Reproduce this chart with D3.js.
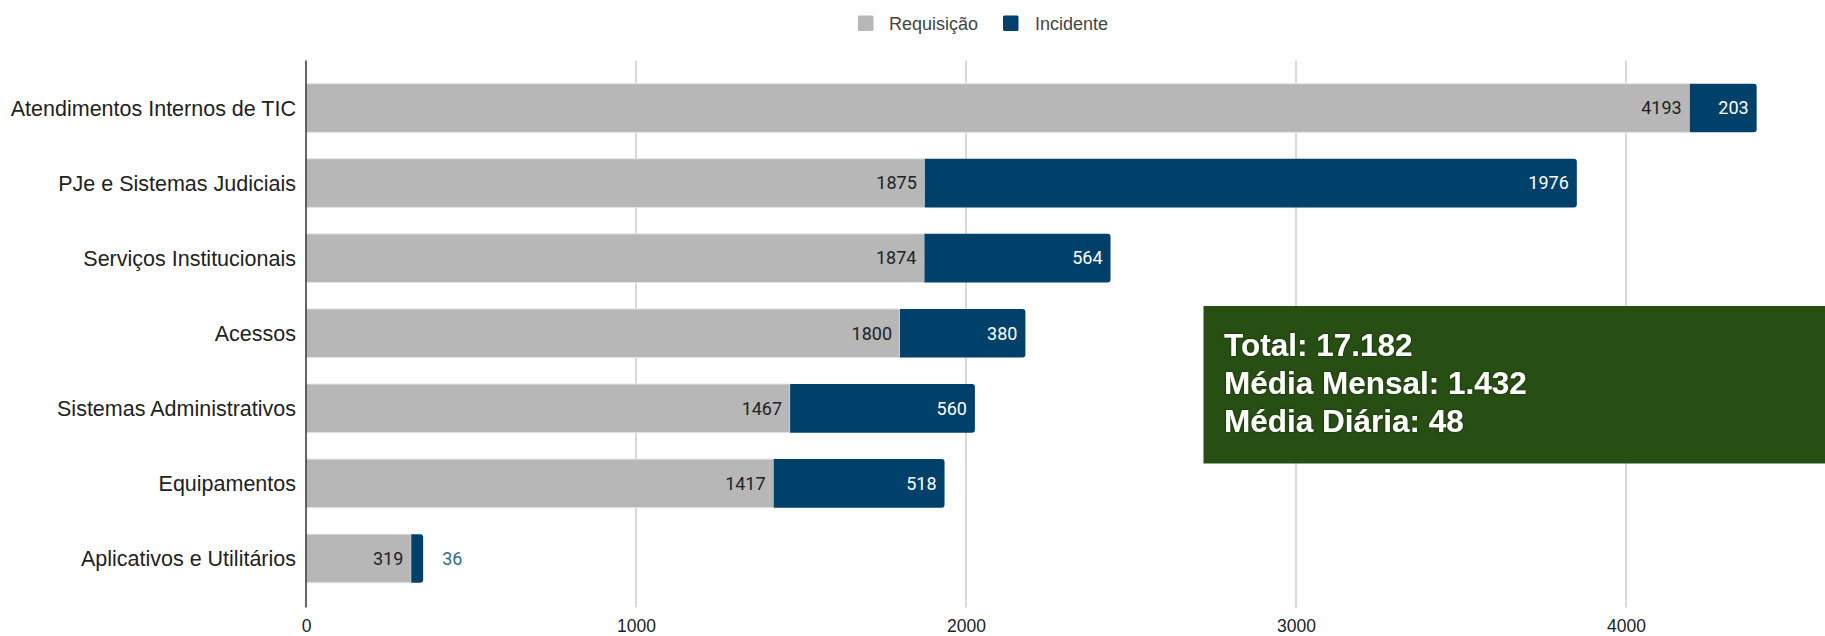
<!DOCTYPE html>
<html>
<head>
<meta charset="utf-8">
<script src="https://cdn.jsdelivr.net/npm/d3@7"></script>
<style>
  body { margin: 0; background: #fff; }
  svg { display: block; }
</style>
</head>
<body>
<div id="graph"></div>
<script>
// chart data
var categories = ['Atendimentos Internos de TIC', 'PJe e Sistemas Judiciais', 'Serviços Institucionais',
  'Acessos', 'Sistemas Administrativos', 'Equipamentos', 'Aplicativos e Utilitários'];
var requisicao = [4193, 1875, 1874, 1800, 1467, 1417, 319];
var incidente = [203, 1976, 564, 380, 560, 518, 36];
var seriesNames = ['Requisição', 'Incidente'];
var xTicks = [0, 1000, 2000, 3000, 4000];
var summaryLines = ['Total: 17.182', 'Média Mensal: 1.432', 'Média Diária: 48'];

var colors = ['#b7b7b7', '#00416b'];
var width = 1825, height = 636;

var svg = d3.select('#graph')
  .append('svg')
  .attr('width', width)
  .attr('height', height);

// scales
var x = d3.scaleLinear().domain([0, 4400]).range([306, 1758]);
var y = d3.scaleBand().domain(categories).range([70.5, 596])
  .paddingInner(0.352).paddingOuter(0.176);

var plotTop = 60.5, plotBottom = 607.5;

// gridlines
svg.append('g')
  .selectAll('line')
  .data(xTicks.slice(1))
  .enter().append('line')
    .attr('x1', function(d) { return x(d); })
    .attr('x2', function(d) { return x(d); })
    .attr('y1', plotTop)
    .attr('y2', plotBottom)
    .attr('stroke', '#cccccc')
    .attr('stroke-width', 1.5);

// stacked data
var rows = categories.map(function(c, i) {
  return { cat: c, req: requisicao[i], inc: incidente[i] };
});

// requisicao bars
svg.append('g')
  .selectAll('rect')
  .data(rows)
  .enter().append('rect')
    .attr('x', x(0))
    .attr('y', function(d) { return y(d.cat); })
    .attr('width', function(d) { return x(d.req) - x(0); })
    .attr('height', y.bandwidth())
    .attr('fill', colors[0])
    .attr('stroke', '#e4e4e4')
    .attr('stroke-width', 1);

// incidente bars, rounded right end
function roundRight(x0, x1, y0, h, r) {
  r = Math.min(r, (x1 - x0));
  return 'M' + x0 + ',' + y0 +
    'H' + (x1 - r) +
    'Q' + x1 + ',' + y0 + ' ' + x1 + ',' + (y0 + r) +
    'V' + (y0 + h - r) +
    'Q' + x1 + ',' + (y0 + h) + ' ' + (x1 - r) + ',' + (y0 + h) +
    'H' + x0 + 'Z';
}

svg.append('g')
  .selectAll('path')
  .data(rows)
  .enter().append('path')
    .attr('d', function(d) {
      return roundRight(x(d.req), x(d.req + d.inc), y(d.cat), y.bandwidth(), 3);
    })
    .attr('fill', colors[1]);

// value labels
var labels = svg.append('g')
  .attr('font-family', 'Roboto, sans-serif')
  .attr('font-size', 18);

function isInside(d) { return (x(d.req + d.inc) - x(d.req)) > 45; }

labels.selectAll('.req-label')
  .data(rows)
  .enter().append('text')
    .attr('x', function(d) { return x(d.req) - 8; })
    .attr('y', function(d) { return y(d.cat) + y.bandwidth() / 2; })
    .attr('dy', '0.35em')
    .attr('text-anchor', 'end')
    .attr('fill', '#222')
    .text(function(d) { return d.req; });

labels.selectAll('.inc-label')
  .data(rows)
  .enter().append('text')
    .attr('x', function(d) {
      return isInside(d) ? x(d.req + d.inc) - 8 : x(d.req + d.inc) + 19;
    })
    .attr('y', function(d) { return y(d.cat) + y.bandwidth() / 2; })
    .attr('dy', '0.35em')
    .attr('text-anchor', function(d) { return isInside(d) ? 'end' : 'start'; })
    .attr('fill', function(d) { return isInside(d) ? '#fff' : '#336a94'; })
    .text(function(d) { return d.inc; });

// category labels
svg.append('g')
  .selectAll('text')
  .data(categories)
  .enter().append('text')
    .attr('x', 296)
    .attr('y', function(d) { return y(d) + y.bandwidth() / 2; })
    .attr('dy', '0.35em')
    .attr('text-anchor', 'end')
    .attr('font-family', 'Liberation Sans, Arial, sans-serif')
    .attr('font-size', 21.5)
    .attr('fill', '#222')
    .text(function(d) { return d; });

// baseline
svg.append('line')
  .attr('x1', x(0)).attr('x2', x(0))
  .attr('y1', plotTop).attr('y2', plotBottom)
  .attr('stroke', '#333')
  .attr('stroke-width', 1.5);

// x-axis labels
var xAxis = svg.append('g')
  .attr('transform', 'translate(0,' + plotBottom + ')')
  .call(d3.axisBottom(x).tickValues(xTicks).tickSize(0).tickPadding(12).tickFormat(d3.format('d')));
xAxis.select('.domain').remove();
xAxis.selectAll('text')
  .attr('font-family', 'Liberation Sans, Arial, sans-serif')
  .attr('font-size', 17.5)
  .attr('fill', '#222');

// legend
var legendItems = [
  { name: seriesNames[0], color: colors[0], x: 858, tx: 889 },
  { name: seriesNames[1], color: colors[1], x: 1003, tx: 1035 }
];
var legend = svg.append('g');
legend.selectAll('rect')
  .data(legendItems)
  .enter().append('rect')
    .attr('x', function(d) { return d.x; })
    .attr('y', 15.5)
    .attr('width', 15.5)
    .attr('height', 15.5)
    .attr('rx', 1.5)
    .attr('fill', function(d) { return d.color; });
legend.selectAll('text')
  .data(legendItems)
  .enter().append('text')
    .attr('x', function(d) { return d.tx; })
    .attr('y', 23.3)
    .attr('dy', '0.35em')
    .attr('font-family', 'Liberation Sans, Arial, sans-serif')
    .attr('font-size', 18)
    .attr('fill', '#444')
    .text(function(d) { return d.name; });

// summary box
var defs = svg.append('defs');
var f = defs.append('filter').attr('id', 'glow').attr('x', '-10%').attr('y', '-30%').attr('width', '120%').attr('height', '160%');
f.append('feDropShadow')
  .attr('dx', 0).attr('dy', 0).attr('stdDeviation', 1.2)
  .attr('flood-color', '#000').attr('flood-opacity', 0.6);

svg.append('rect')
  .attr('x', 1203.5)
  .attr('y', 306)
  .attr('width', width - 1203.5)
  .attr('height', 157.5)
  .attr('fill', '#274e13');

svg.append('g')
  .selectAll('text')
  .data(summaryLines)
  .enter().append('text')
    .attr('x', 1224)
    .attr('y', function(d, i) { return 355.7 + i * 38; })
    .attr('font-family', 'Liberation Sans, Arial, sans-serif')
    .attr('font-weight', 'bold')
    .attr('font-size', 31.5)
    .attr('fill', '#fff')
    .attr('filter', 'url(#glow)')
    .text(function(d) { return d; });
</script>
</body>
</html>
